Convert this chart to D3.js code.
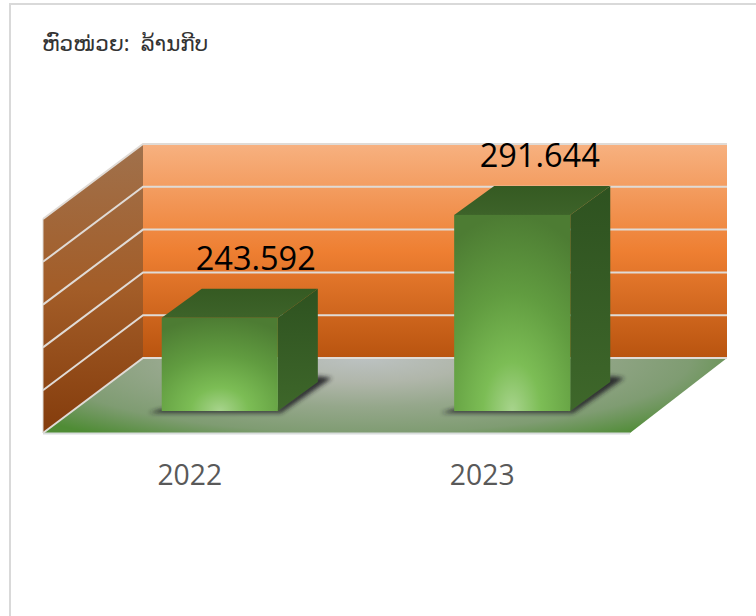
<!DOCTYPE html>
<html><head><meta charset="utf-8">
<script src="https://cdnjs.cloudflare.com/ajax/libs/d3/7.8.5/d3.min.js"></script>
<style>html,body{margin:0;padding:0;background:#fff}svg{display:block}</style>
</head><body><svg id="c" width="756" height="616"></svg>
<script>
const categories = ["2022", "2023"];
const values = [243.592, 291.644];
const gridTicks = [200, 220, 240, 260, 280, 300];
const unitLabel = "ຫົວໜ່ວຍ:  ລ້ານກີບ";

const svg = d3.select("#c");
const defs = svg.append("defs");
const grad = (id, stops, a) => {
  const g = defs.append("linearGradient").attr("id", id)
    .attr("x1", a[0]).attr("y1", a[1]).attr("x2", a[2]).attr("y2", a[3]);
  stops.forEach(s => g.append("stop").attr("offset", s[0]).attr("stop-color", s[1]));
};
const radial = (id, cx, cy, r, stops, tf) => {
  const g = defs.append("radialGradient").attr("id", id).attr("cx", cx).attr("cy", cy).attr("r", r);
  if (tf) g.attr("gradientTransform", tf);
  stops.forEach(s => g.append("stop").attr("offset", s[0]).attr("stop-color", s[1]));
};
grad("wall", [[0, "#f7b180"], [0.5, "#ee7f32"], [1, "#b9540f"]], [0, 0, 0, 1]);
grad("side", [[0, "#a0714c"], [0.5, "#a35d28"], [1, "#843c0c"]], [0, 0, 0, 1]);
radial("floorFill", 0.47, 0, 1, [[0, "#bcc2c2"], [0.25, "#b0b6aa"], [0.5, "#95a78b"], [0.77, "#7f9c72"], [1, "#4f8c35"]],
  "translate(0.47,0) scale(0.62,1.3) translate(-0.47,0)");
grad("top", [[0, "#355a22"], [1, "#3d6329"]], [0, 0, 0, 1]);
grad("right", [[0, "#2e5220"], [1, "#3e672a"]], [0, 0, 0, 1]);
radial("front", 0.5, 1, 1, [[0, "#a8d48d"], [0.25, "#7cbd55"], [0.6, "#619c40"], [1, "#4d7c33"]]);
const bl = defs.append("filter").attr("id", "blur").attr("x", "-20%").attr("y", "-50%").attr("width", "140%").attr("height", "200%");
bl.append("feGaussianBlur").attr("stdDeviation", 2.2);

svg.append("rect").attr("x", 10).attr("y", 4).attr("width", 760).attr("height", 640)
  .attr("fill", "#fff").attr("stroke", "#d9d9d9").attr("stroke-width", 2);

svg.append("text").attr("x", 42).attr("y", 51).text(unitLabel).style("white-space", "pre")
  .attr("font-family", "'Noto Sans','DejaVu Sans',sans-serif").attr("font-size", 21.5).attr("fill", "#333");

// plot box: front plane and depth offset
const frontLeft = 43, frontRight = 630, frontBase = 433, depthX = 100, depthY = 75, backRight = 727;
const y = d3.scaleLinear().domain([200, 300]).range([frontBase, frontBase - 214]);
const p = pts => pts.map(d => d.join(",")).join(" ");

svg.append("polygon").attr("fill", "url(#side)")
  .attr("points", p([[frontLeft, y(200)], [frontLeft, y(300)], [frontLeft + depthX, y(300) - depthY], [frontLeft + depthX, y(200) - depthY]]));
svg.append("polygon").attr("fill", "url(#wall)")
  .attr("points", p([[frontLeft + depthX, y(300) - depthY], [backRight, y(300) - depthY], [backRight, y(200) - depthY], [frontLeft + depthX, y(200) - depthY]]));
svg.append("polygon").attr("fill", "url(#floorFill)")
  .attr("points", p([[frontLeft, y(200)], [frontLeft + depthX, y(200) - depthY], [backRight, y(200) - depthY], [frontRight, y(200)]]));

svg.selectAll(".g").data(gridTicks).join("polyline").attr("class", "g")
  .attr("fill", "none").attr("stroke", "#e0dbd6").attr("stroke-width", 2)
  .attr("points", d => p([[frontLeft, y(d)], [frontLeft + depthX, y(d) - depthY], [backRight, y(d) - depthY]]));
svg.append("line").attr("x1", frontLeft).attr("x2", frontRight).attr("y1", y(200) + 0.5).attr("y2", y(200) + 0.5)
  .attr("stroke", "#d8dcdc").attr("stroke-width", 2);
svg.append("line").attr("x1", frontLeft).attr("x2", frontLeft).attr("y1", y(200)).attr("y2", y(300))
  .attr("stroke", "#dcd8d3").attr("stroke-width", 1);

// bars sit midway through the floor depth
const x = d3.scaleBand().domain(categories).range([44, 628]).paddingInner(0.603).paddingOuter(0.3);
const gapX = 30, barLift = 22, barDX = 40, barDY = 29;
const xb = c => x(c) + gapX;
const yb = v => y(v) - barLift;
const bars = svg.selectAll(".bar").data(categories.map((c, i) => ({c, v: values[i], i}))).join("g").attr("class", "bar");
bars.append("polygon").attr("fill", "#222226").attr("opacity", 0.9).attr("filter", "url(#blur)")
  .attr("points", d => { const l = xb(d.c), r = l + x.bandwidth(), b = yb(200);
    return p([[l - 13, b + 2], [r + 3, b + 2], [r + barDX + 14, b - barDY - 4], [r + barDX, b - barDY - 6], [r, b - 2], [l, b - 2]]); });
bars.append("polygon").attr("fill", "url(#right)")
  .attr("points", d => { const r = xb(d.c) + x.bandwidth();
    return p([[r, yb(d.v)], [r + barDX, yb(d.v) - barDY], [r + barDX, yb(200) - barDY], [r, yb(200)]]); });
bars.append("polygon").attr("fill", "url(#top)")
  .attr("points", d => { const l = xb(d.c), r = l + x.bandwidth(), t = yb(d.v);
    return p([[l, t], [l + barDX, t - barDY], [r + barDX, t - barDY], [r, t]]); });
bars.append("rect").attr("fill", "url(#front)")
  .attr("x", d => xb(d.c)).attr("width", x.bandwidth())
  .attr("y", d => yb(d.v)).attr("height", d => yb(200) - yb(d.v));

const sans = "'Open Sans','Noto Sans',sans-serif";
bars.append("text").attr("text-anchor", "middle")
  .attr("x", d => xb(d.c) + x.bandwidth() / 2 + (d.i === 0 ? 36 : 27.5)).attr("y", d => yb(d.v) - 48)
  .attr("font-family", sans).attr("font-size", 32.5).attr("fill", "#000")
  .text(d => d3.format(".3f")(d.v));

const axis = d3.axisBottom(x).tickSize(0).tickPadding(0);
const ax = svg.append("g").attr("transform", `translate(0,${frontBase + 52})`).call(axis);
ax.select(".domain").remove();
ax.selectAll("text").attr("font-family", sans).attr("font-size", 28.3).attr("fill", "#595959").attr("dy", 0);
</script></body></html>
